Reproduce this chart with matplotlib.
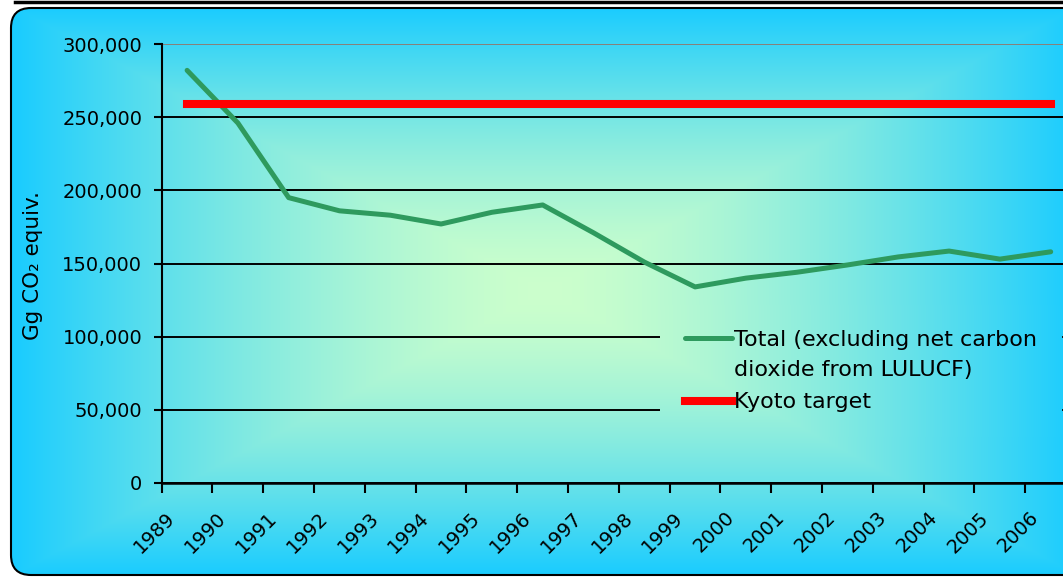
import numpy as np
import matplotlib
matplotlib.use('Agg')
import matplotlib.pyplot as plt
from matplotlib.patches import FancyBboxPatch
from matplotlib.transforms import ScaledTranslation

# emissions, Gg CO2 equivalent
years = [str(y) for y in range(1989, 2007)]
total = [282000, 246000, 195000, 186000, 183000, 177000, 185000, 190000, 171000,
         151000, 134000, 140000, 144000, 149000, 154500, 158500, 153000, 158000]
kyoto_target = 259000
y_ticks = [0, 50000, 100000, 150000, 200000, 250000, 300000]
y_ticklabels = [f'{v:,}' for v in y_ticks]
labels = ['Total (excluding net carbon\ndioxide from LULUCF)', 'Kyoto target']

W, H = 1063, 577
FS = 14
LEG_FS = 16

# plot area in pixels
ax_left, ax_bottom, ax_top = 161.7, 483.0, 44.0
cat_w = 50.8
ymax = 300000

fig = plt.figure(figsize=(W / 100, H / 100), dpi=100)

# background panel with centre gradient
bg = fig.add_axes([0, 0, 1, 1])
bg.axis('off')
yy, xx = np.mgrid[0:H, 0:W] + 0.5
cx, cy, hx, hy = 545, 291, 530, 283
t = np.maximum(np.abs(xx - cx) / hx, np.abs(yy - cy) / hy).clip(0, 1) ** 1.5
c0 = np.array([204, 255, 204]) / 255
c1 = np.array([26, 204, 255]) / 255
grad = c0 + (c1 - c0) * t[..., None]

panel = FancyBboxPatch((11, 8), 1120, 567, boxstyle='round,pad=0,rounding_size=20',
                       fc='none', ec='black', lw=1.5, zorder=2)
bg.add_patch(panel)
im = bg.imshow(grad, extent=[0, W, H, 0], aspect='auto', zorder=1)
im.set_clip_path(panel)
bg.plot([15, W], [1.5, 1.5], color='black', lw=2.5)
bg.set_xlim(0, W)
bg.set_ylim(H, 0)

n = len(years)
ax = fig.add_axes([ax_left / W, 1 - ax_bottom / H, n * cat_w / W, (ax_bottom - ax_top) / H])
ax.set_facecolor('none')
x = np.arange(n) + 0.5

ax.plot(x, total, color='#2e9a5e', lw=3.6, solid_joinstyle='round',
        solid_capstyle='round', zorder=3, label=labels[0])
ax.plot(x, [kyoto_target] * n, color='#ff0000', lw=5.8,
        solid_capstyle='projecting', zorder=3, label=labels[1])

ax.set_xlim(0, n)
ax.set_ylim(0, ymax)

ax.set_yticks(y_ticks)
ax.set_yticklabels(y_ticklabels)
ax.yaxis.grid(True, color='black', lw=1.4)
ax.yaxis.get_gridlines()[-1].set_color('#8a7f78')
ax.tick_params(axis='y', direction='out', length=6, width=1.5, pad=8, labelsize=FS)

ax.set_xticks(np.arange(n + 1))
ax.set_xticklabels([])
ax.tick_params(axis='x', which='major', direction='out', length=7, width=1.5)
ax.set_xticks(x, minor=True)
ax.set_xticklabels(years, minor=True, rotation=45, ha='right', va='top', fontsize=FS)
ax.tick_params(axis='x', which='minor', length=0, pad=18)
for lab in ax.get_xticklabels(minor=True):
    lab.set_transform(lab.get_transform() + ScaledTranslation(-8 / 100, 0, fig.dpi_scale_trans))

for s in ['top', 'right']:
    ax.spines[s].set_visible(False)
ax.spines['left'].set_linewidth(1.5)
ax.spines['bottom'].set_linewidth(1.8)

ax.set_ylabel('Gg CO₂ equiv.', fontsize=15.5, va='center')
ax.yaxis.set_label_coords((33 - ax_left) / (n * cat_w), (ax_bottom - 266) / (ax_bottom - ax_top))

leg = ax.legend(loc='upper left',
                bbox_to_anchor=((660 - ax_left) / (n * cat_w), (ax_bottom - 305) / (ax_bottom - ax_top)),
                borderaxespad=0, fontsize=LEG_FS, frameon=True, handlelength=2.1,
                handletextpad=0.1, borderpad=1.13, labelspacing=0.57)
leg.get_frame().set_facecolor('none')
leg.get_frame().set_edgecolor('none')
leg.get_texts()[0].set_linespacing(1.6)
h0 = leg.legend_handles[0]
h0.set_ydata(np.asarray(h0.get_ydata()) + 12.5)

# legend box takes the same gradient so the grid stops behind it
px_x = lambda p: (p - ax_left) / cat_w
px_y = lambda p: (ax_bottom - p) / (ax_bottom - ax_top) * ymax
im2 = ax.imshow(grad, extent=[px_x(0), px_x(W), px_y(H), px_y(0)], aspect='auto', zorder=1.8)
im2.set_clip_path(leg.legendPatch)
ax.set_xlim(0, n)
ax.set_ylim(0, ymax)

fig.canvas.draw()
fig.savefig('out.png', dpi=100)
